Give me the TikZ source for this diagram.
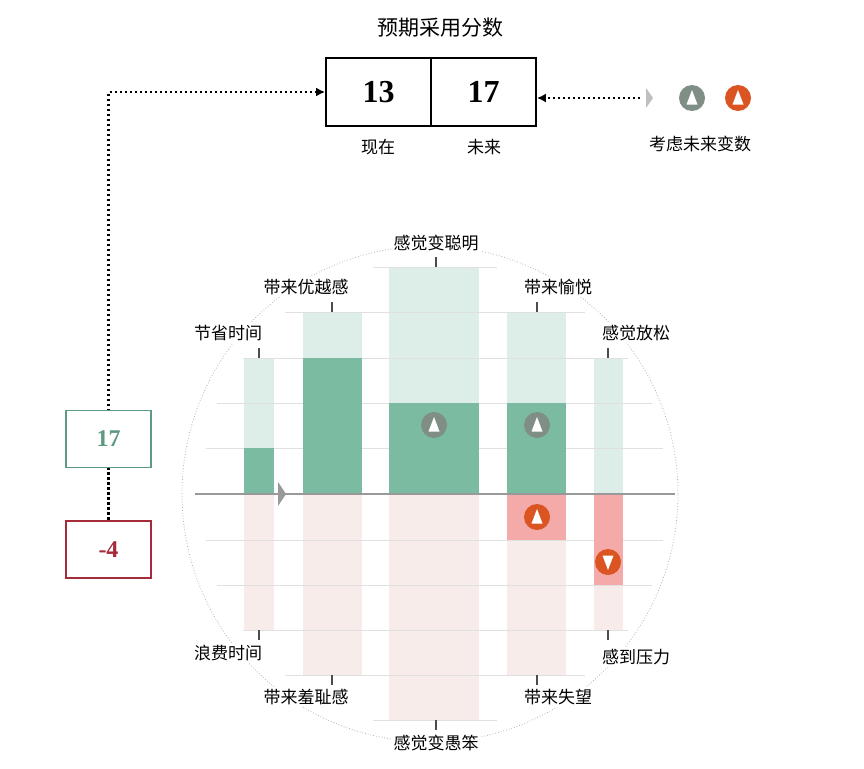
\documentclass[tikz,border=0pt]{standalone}
\usepackage{fontspec}
\setmainfont{Noto Sans CJK SC}
\newfontfamily\numfont{Liberation Serif}
\usepackage{xcolor}
\definecolor{lightgreen}{HTML}{DDEEE8}
\definecolor{darkgreen}{HTML}{7BBBA1}
\definecolor{lightpink}{HTML}{F8ECEB}
\definecolor{strongpink}{HTML}{F5AAAA}
\definecolor{icongray}{HTML}{7F8F86}
\definecolor{iconorange}{HTML}{DA5522}
\definecolor{boxgreen}{HTML}{5E9A80}
\definecolor{boxred}{HTML}{A52A3A}
\usetikzlibrary{arrows.meta,calc}
\tikzset{
  lbl/.style={font=\fontsize{17}{20}\selectfont, fill=white, inner sep=2pt},
  gridline/.style={draw=black!12, line width=0.8pt},
  tick/.style={draw=black!70, line width=1.2pt},
  dots/.style={line width=2.5pt, dash pattern=on 2.5pt off 2.5pt},
  numbox/.style={draw, line width=1.8pt, minimum width=85pt, minimum height=57pt, fill=white, font=\numfont\bfseries\fontsize{24}{26}\selectfont},
}
% icon: circle with a white triangle
\newcommand{\icon}[3]{%
  \fill[#2] #1 circle (13pt);
  \fill[white] ($#1+(0,-#3*8)$) -- ($#1+(-5.5,#3*6.5)$) -- ($#1+(5.5,#3*6.5)$) -- cycle;
}
\begin{document}
\begin{tikzpicture}[x=1pt,y=-1pt]
  \useasboundingbox (0,0) rectangle (864,768);
  % circle
  \draw[black!30, dotted, line width=0.8pt] (430,494) circle (248pt);
  % light bars
  \fill[lightgreen] (244,358) rectangle (274,494);
  \fill[lightgreen] (303,312) rectangle (362,494);
  \fill[lightgreen] (389,267) rectangle (479,494);
  \fill[lightgreen] (507,312) rectangle (566,494);
  \fill[lightgreen] (594,358) rectangle (623,494);
  \fill[lightpink] (244,494) rectangle (274,630);
  \fill[lightpink] (303,494) rectangle (362,675);
  \fill[lightpink] (389,494) rectangle (479,720);
  \fill[lightpink] (507,494) rectangle (566,675);
  \fill[lightpink] (594,494) rectangle (623,630);
  % grid
  \foreach \y/\a/\b in {267/373/497, 312/285/585, 358/243/628, 403/217/652, 448/206/663,
                        540/206/663, 585/217/652, 630/243/628, 675/285/585, 720/373/497}
    \draw[gridline] (\a,\y) -- (\b,\y);
  % values
  \fill[darkgreen] (244,448) rectangle (274,494);
  \fill[darkgreen] (303,358) rectangle (362,494);
  \fill[darkgreen] (389,403) rectangle (479,494);
  \fill[darkgreen] (507,403) rectangle (566,494);
  \fill[strongpink] (507,494) rectangle (566,540);
  \fill[strongpink] (594,494) rectangle (623,585);
  % axis
  \draw[black!40, line width=2.5pt] (195,494) -- (675,494);
  \fill[black!40] (278,482) -- (286,494) -- (278,506) -- cycle;
  % icons
  \icon{(434,425)}{icongray}{1}
  \icon{(537,425)}{icongray}{1}
  \icon{(537,517)}{iconorange}{1}
  \icon{(608,562)}{iconorange}{-1}
  % labels
  \node[lbl] (save) at (228,333) {节省时间};
  \node[lbl] (super) at (306,287) {带来优越感};
  \node[lbl] (smart) at (436,243) {感觉变聪明};
  \node[lbl] (joy) at (558,287) {带来愉悦};
  \node[lbl] (relax) at (636,333) {感觉放松};
  \node[lbl] (waste) at (228,653) {浪费时间};
  \node[lbl] (shame) at (306,697) {带来羞耻感};
  \node[lbl] (dumb) at (436,743) {感觉变愚笨};
  \node[lbl] (letdown) at (558,697) {带来失望};
  \node[lbl] (stress) at (636,657) {感到压力};
  \foreach \x/\a/\b in {259/348/358, 332/302/312, 436/257/267, 537/302/312, 608/348/358,
                        259/630/640, 332/675/685, 436/720/730, 537/675/685, 608/630/640}
    \draw[tick] (\x,\a) -- (\x,\b);
  % score boxes
  \node[lbl, font=\fontsize{21}{24}\selectfont] (title) at (440,28) {预期采用分数};
  \node[numbox, minimum width=105pt, minimum height=68pt, font=\numfont\bfseries\fontsize{32}{34}\selectfont] (now) at (378.5,92) {13};
  \node[numbox, minimum width=105pt, minimum height=68pt, font=\numfont\bfseries\fontsize{32}{34}\selectfont] (future) at (483.5,92) {17};
  \node[lbl] (nowlbl) at (378,147) {现在};
  \node[lbl] (futurelbl) at (484,147) {未来};
  \draw[dots] (108.5,467) -- (108.5,521);
  \draw[dots, -{Latex[length=9pt,width=9pt]}] (108.5,411) |- (now.west);
  \node[numbox, draw=boxgreen, text=boxgreen] (pos) at (108.5,439) {17};
  \node[numbox, draw=boxred, text=boxred] (neg) at (108.5,549.5) {-4};
  % legend
  \coordinate (leg) at (640,98);
  \fill[black!25] (646,88) -- (653,98) -- (646,108) -- cycle;
  \draw[dots, -{Latex[length=9pt,width=9pt]}] (leg) -- (future.east |- leg);
  \icon{(692,98)}{icongray}{1}
  \icon{(738,98)}{iconorange}{1}
  \node[lbl] (legtxt) at (700,144) {考虑未来变数};
\end{tikzpicture}
\end{document}
